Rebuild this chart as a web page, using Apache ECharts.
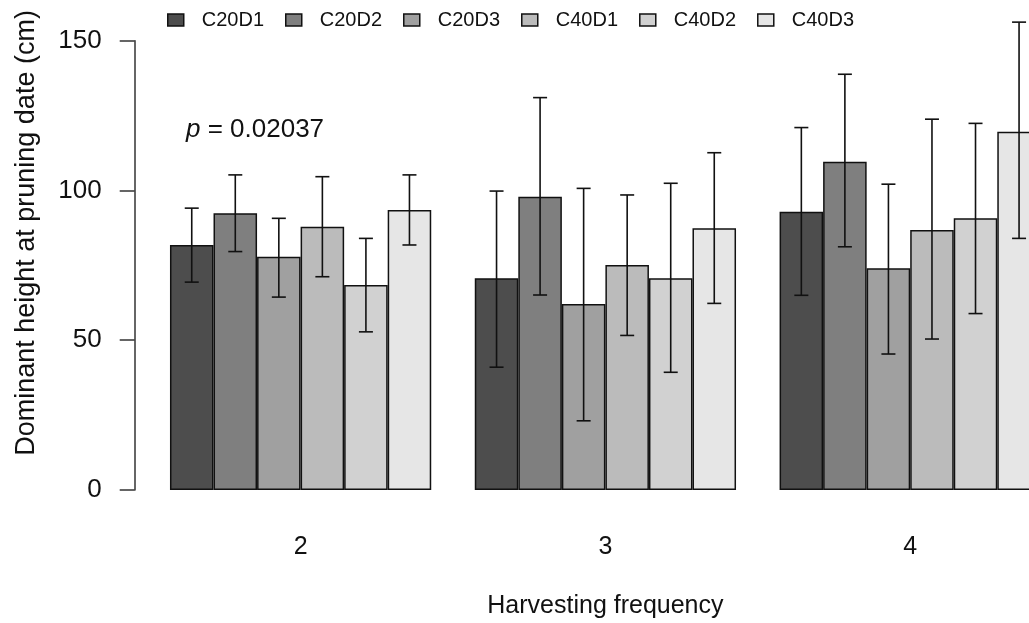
<!DOCTYPE html>
<html>
<head>
<meta charset="utf-8">
<script src="https://cdn.jsdelivr.net/npm/echarts@6/dist/echarts.min.js"></script>
<style>
  html, body { margin: 0; padding: 0; background: #fff; }
  #chart { width: 1029px; height: 623px; }
</style>
</head>
<body>
<div id="chart"></div>
<script>
// Harvesting frequency groups and treatment names
const categories = ['2', '3', '4'];
const seriesNames = ['C20D1', 'C20D2', 'C20D3', 'C40D1', 'C40D2', 'C40D3'];
const seriesColors = ['#4d4d4d', '#7f7f7f', '#a0a0a0', '#bbbbbb', '#d1d1d1', '#e6e6e6'];
const yTicks = [0, 50, 100, 150];

// Mean dominant height (cm), one row per treatment, one value per frequency
const means = [
  [81.8, 70.7, 92.9],
  [92.4, 97.9, 109.6],
  [77.9, 62.1, 74.0],
  [87.9, 75.1, 86.8],
  [68.4, 70.7, 90.7],
  [93.5, 87.4, 119.6]
];
// Error bar limits
const upperLimits = [
  [94.1, 99.8, 121.0],
  [105.2, 131.0, 138.8],
  [90.7, 100.7, 102.1],
  [104.6, 98.5, 123.8],
  [84.0, 102.4, 122.4],
  [105.2, 112.6, 156.2]
];
const lowerLimits = [
  [69.4, 41.0, 65.0],
  [79.6, 65.1, 81.2],
  [64.4, 23.1, 45.4],
  [71.2, 51.6, 50.4],
  [52.8, 39.3, 58.9],
  [81.8, 62.3, 84.0]
];
const pLabel = '0.02037';

const FONT = "'Liberation Sans', Arial, sans-serif";
const TEXT = '#111';
const GAP_RATIO = 1 / 7;   // one empty bar slot between groups
const nSeries = seriesNames.length;

const barSeries = seriesNames.map((name, i) => ({
  name: name,
  type: 'bar',
  data: means[i],
  barGap: 0,
  barCategoryGap: (GAP_RATIO * 100) + '%',
  itemStyle: { color: seriesColors[i], borderColor: '#111', borderWidth: 1.5 },
  emphasis: { disabled: true },
  animation: false
}));

const errData = [];
seriesNames.forEach((_, s) => {
  categories.forEach((_, c) => {
    errData.push([c, s, lowerLimits[s][c], upperLimits[s][c]]);
  });
});

const errorSeries = {
  type: 'custom',
  name: 'errors',
  data: errData,
  encode: { x: 0, y: [2, 3] },
  clip: false,
  z: 10,
  animation: false,
  silent: true,
  renderItem: function (params, api) {
    const c = api.value(0), s = api.value(1);
    const lo = api.value(2), hi = api.value(3);
    const band = api.size([1, 0])[0];
    const bw = band * (1 - GAP_RATIO) / nSeries;
    const cx = api.coord([c, 0])[0] + (s - (nSeries - 1) / 2) * bw;
    const yHi = api.coord([c, hi])[1];
    const yLo = api.coord([c, lo])[1];
    const cap = 7;
    const st = { stroke: '#111', lineWidth: 1.6 };
    return {
      type: 'group',
      children: [
        { type: 'line', shape: { x1: cx, y1: yHi, x2: cx, y2: yLo }, style: st },
        { type: 'line', shape: { x1: cx - cap, y1: yHi, x2: cx + cap, y2: yHi }, style: st },
        { type: 'line', shape: { x1: cx - cap, y1: yLo, x2: cx + cap, y2: yLo }, style: st }
      ]
    };
  }
};

const chart = echarts.init(document.getElementById('chart'), null, { renderer: 'canvas' });
chart.setOption({
  animation: false,
  backgroundColor: '#fff',
  textStyle: { fontFamily: FONT },
  grid: {
    left: 148.2, top: 40.7, width: 914.4, height: 449.3,
    containLabel: false, outerBoundsMode: 'none'
  },
  legend: {
    data: seriesNames,
    left: 162, top: 5,
    itemWidth: 16, itemHeight: 12, itemGap: 21,
    icon: 'rect',
    itemStyle: { borderColor: '#111', borderWidth: 1.5 },
    textStyle: { fontFamily: FONT, fontSize: 20, color: TEXT, padding: [0, 0, 0, 13] },
    selectedMode: false
  },
  xAxis: {
    type: 'category',
    data: categories,
    axisLine: { show: false },
    axisTick: { show: false },
    axisLabel: { margin: 45, fontSize: 25, color: TEXT, fontFamily: FONT },
    name: 'Harvesting frequency',
    nameLocation: 'middle',
    nameGap: 104,
    nameTextStyle: { fontSize: 25, color: TEXT, fontFamily: FONT, verticalAlign: 'top' }
  },
  yAxis: {
    type: 'value',
    min: yTicks[0], max: yTicks[yTicks.length - 1], interval: 50,
    offset: 13.5,
    splitLine: { show: false },
    axisLine: { show: true, lineStyle: { color: '#333', width: 1.5 } },
    axisTick: { show: true, length: 15, lineStyle: { color: '#333', width: 1.5 } },
    axisLabel: { margin: 33, fontSize: 26, color: TEXT, fontFamily: FONT }
  },
  graphic: [
    {
      type: 'text',
      x: 27, y: 233,
      rotation: Math.PI / 2,
      style: {
        text: 'Dominant height at pruning date (cm)',
        font: '27px ' + FONT,
        fill: TEXT,
        align: 'center', verticalAlign: 'middle'
      }
    },
    {
      type: 'text',
      x: 186, y: 130,
      style: {
        text: '{i|p} = ' + pLabel,
        font: '26px ' + FONT,
        fill: TEXT,
        align: 'left', verticalAlign: 'middle',
        rich: { i: { fontStyle: 'italic', font: 'italic 26px ' + FONT, fill: TEXT } }
      }
    }
  ],
  series: barSeries.concat([errorSeries])
});
</script>
</body>
</html>
